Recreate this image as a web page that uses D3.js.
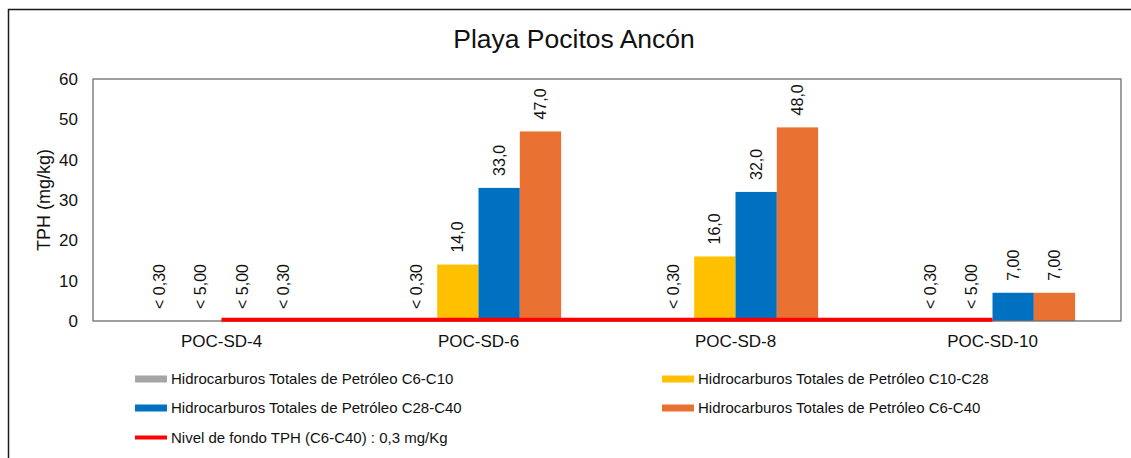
<!DOCTYPE html>
<html>
<head>
<meta charset="utf-8">
<script src="https://cdnjs.cloudflare.com/ajax/libs/d3/7.8.5/d3.min.js"></script>
<style>
  body { margin: 0; background: #fff; }
  svg { font-family: "Liberation Sans", Arial, sans-serif; }
</style>
</head>
<body>
<script>
var w = 1131;
var h = 458;

var margin = { top: 79, right: 10, bottom: 137, left: 93 };

// data
var categories = ["POC-SD-4", "POC-SD-6", "POC-SD-8", "POC-SD-10"];
var seriesNames = [
  "Hidrocarburos Totales de Petróleo C6-C10",
  "Hidrocarburos Totales de Petróleo C10-C28",
  "Hidrocarburos Totales de Petróleo C28-C40",
  "Hidrocarburos Totales de Petróleo C6-C40"
];
var c6c10 = [0, 0, 0, 0];
var c10c28 = [0, 14, 16, 0];
var c28c40 = [0, 33, 32, 7];
var c6c40 = [0, 47, 48, 7];
var c6c10Labels = ["< 0,30", "< 0,30", "< 0,30", "< 0,30"];
var c10c28Labels = ["< 5,00", "14,0", "16,0", "< 5,00"];
var c28c40Labels = ["< 5,00", "33,0", "32,0", "7,00"];
var c6c40Labels = ["< 0,30", "47,0", "48,0", "7,00"];
var nivelFondo = 0.3;
var nivelName = "Nivel de fondo TPH (C6-C40) : 0,3 mg/Kg";
var yTicks = [0, 10, 20, 30, 40, 50, 60];

var colors = ["#A5A5A5", "#FFC000", "#0070C0", "#E97132"];
var allValues = [c6c10, c10c28, c28c40, c6c40];
var allLabels = [c6c10Labels, c10c28Labels, c28c40Labels, c6c40Labels];

var width = w - margin.left - margin.right;
var height = h - margin.top - margin.bottom;

var svg = d3.select("body").append("svg")
  .attr("width", w)
  .attr("height", h);

// outer frame (only left & top are visible)
svg.append("rect")
  .attr("x", 8.5).attr("y", 9.5)
  .attr("width", w + 20).attr("height", h + 20)
  .attr("fill", "none")
  .attr("stroke", "#1a1a1a")
  .attr("stroke-width", 1.5);

svg.append("text")
  .attr("x", 574).attr("y", 48)
  .attr("text-anchor", "middle")
  .attr("font-size", 26.5)
  .attr("fill", "#111")
  .text("Playa Pocitos Ancón");

var chart = svg.append("g")
  .attr("transform", "translate(" + margin.left + "," + margin.top + ")");

var x = d3.scaleBand()
  .domain(categories)
  .range([0, width]);

var bw = x.bandwidth();
var groupW = bw * 0.643;
var x1 = d3.scaleBand()
  .domain(d3.range(seriesNames.length))
  .range([(bw - groupW) / 2, (bw + groupW) / 2]);

var y = d3.scaleLinear()
  .domain([0, 60])
  .range([height, 0]);

// bars
allValues.forEach(function (vals, s) {
  chart.selectAll(".bar" + s)
    .data(vals)
    .enter()
    .append("rect")
    .attr("x", function (d, i) { return x(categories[i]) + x1(s); })
    .attr("y", function (d) { return y(d); })
    .attr("width", x1.bandwidth())
    .attr("height", function (d) { return height - y(d); })
    .attr("fill", colors[s]);
});

// plot frame
chart.append("rect")
  .attr("x", 0).attr("y", 0)
  .attr("width", width).attr("height", height)
  .attr("fill", "none")
  .attr("stroke", "#6e6e6e")
  .attr("stroke-width", 1.3);

// background level line
chart.append("line")
  .attr("x1", x(categories[0]) + bw / 2)
  .attr("x2", x(categories[categories.length - 1]) + bw / 2)
  .attr("y1", y(nivelFondo))
  .attr("y2", y(nivelFondo))
  .attr("stroke", "#FF0000")
  .attr("stroke-width", 4);

// value labels
allValues.forEach(function (vals, s) {
  chart.selectAll(".lab" + s)
    .data(vals)
    .enter()
    .append("text")
    .attr("transform", function (d, i) {
      var cx = x(categories[i]) + x1(s) + x1.bandwidth() / 2;
      return "translate(" + cx + "," + (y(d) - 12) + ") rotate(-90)";
    })
    .attr("dy", "0.35em")
    .attr("font-size", 16)
    .attr("fill", "#111")
    .text(function (d, i) { return allLabels[s][i]; });
});

// axes
var yAxis = chart.append("g")
  .call(d3.axisLeft(y).tickValues(yTicks).tickSize(0).tickPadding(15));
yAxis.select(".domain").remove();
yAxis.selectAll("text").attr("font-size", 17).attr("fill", "#111").attr("font-family", null);

var xAxis = chart.append("g")
  .attr("transform", "translate(0," + height + ")")
  .call(d3.axisBottom(x).tickSize(0).tickPadding(14));
xAxis.select(".domain").remove();
xAxis.selectAll("text").attr("font-size", 17).attr("fill", "#111").attr("font-family", null);

svg.append("text")
  .attr("transform", "translate(44," + (margin.top + height / 2) + ") rotate(-90)")
  .attr("text-anchor", "middle")
  .attr("dy", "0.35em")
  .attr("font-size", 18)
  .attr("fill", "#111")
  .text("TPH (mg/kg)");

// legend
var legendItems = [
  { name: seriesNames[0], color: colors[0], col: 0, row: 0, type: "rect" },
  { name: seriesNames[1], color: colors[1], col: 1, row: 0, type: "rect" },
  { name: seriesNames[2], color: colors[2], col: 0, row: 1, type: "rect" },
  { name: seriesNames[3], color: colors[3], col: 1, row: 1, type: "rect" },
  { name: nivelName, color: "#FF0000", col: 0, row: 2, type: "line" }
];
var colX = [135, 662];
var rowY = [379, 408, 437.5];

var legend = svg.append("g");
legendItems.forEach(function (it) {
  var g = legend.append("g")
    .attr("transform", "translate(" + colX[it.col] + "," + rowY[it.row] + ")");
  if (it.type === "rect") {
    g.append("rect").attr("x", 0).attr("y", -3.5).attr("width", 32).attr("height", 7).attr("fill", it.color);
  } else {
    g.append("rect").attr("x", 0).attr("y", -2).attr("width", 32).attr("height", 4).attr("fill", it.color);
  }
  g.append("text")
    .attr("x", 36).attr("dy", "0.35em")
    .attr("font-size", 15)
    .attr("fill", "#111")
    .text(it.name);
});
</script>
</body>
</html>
